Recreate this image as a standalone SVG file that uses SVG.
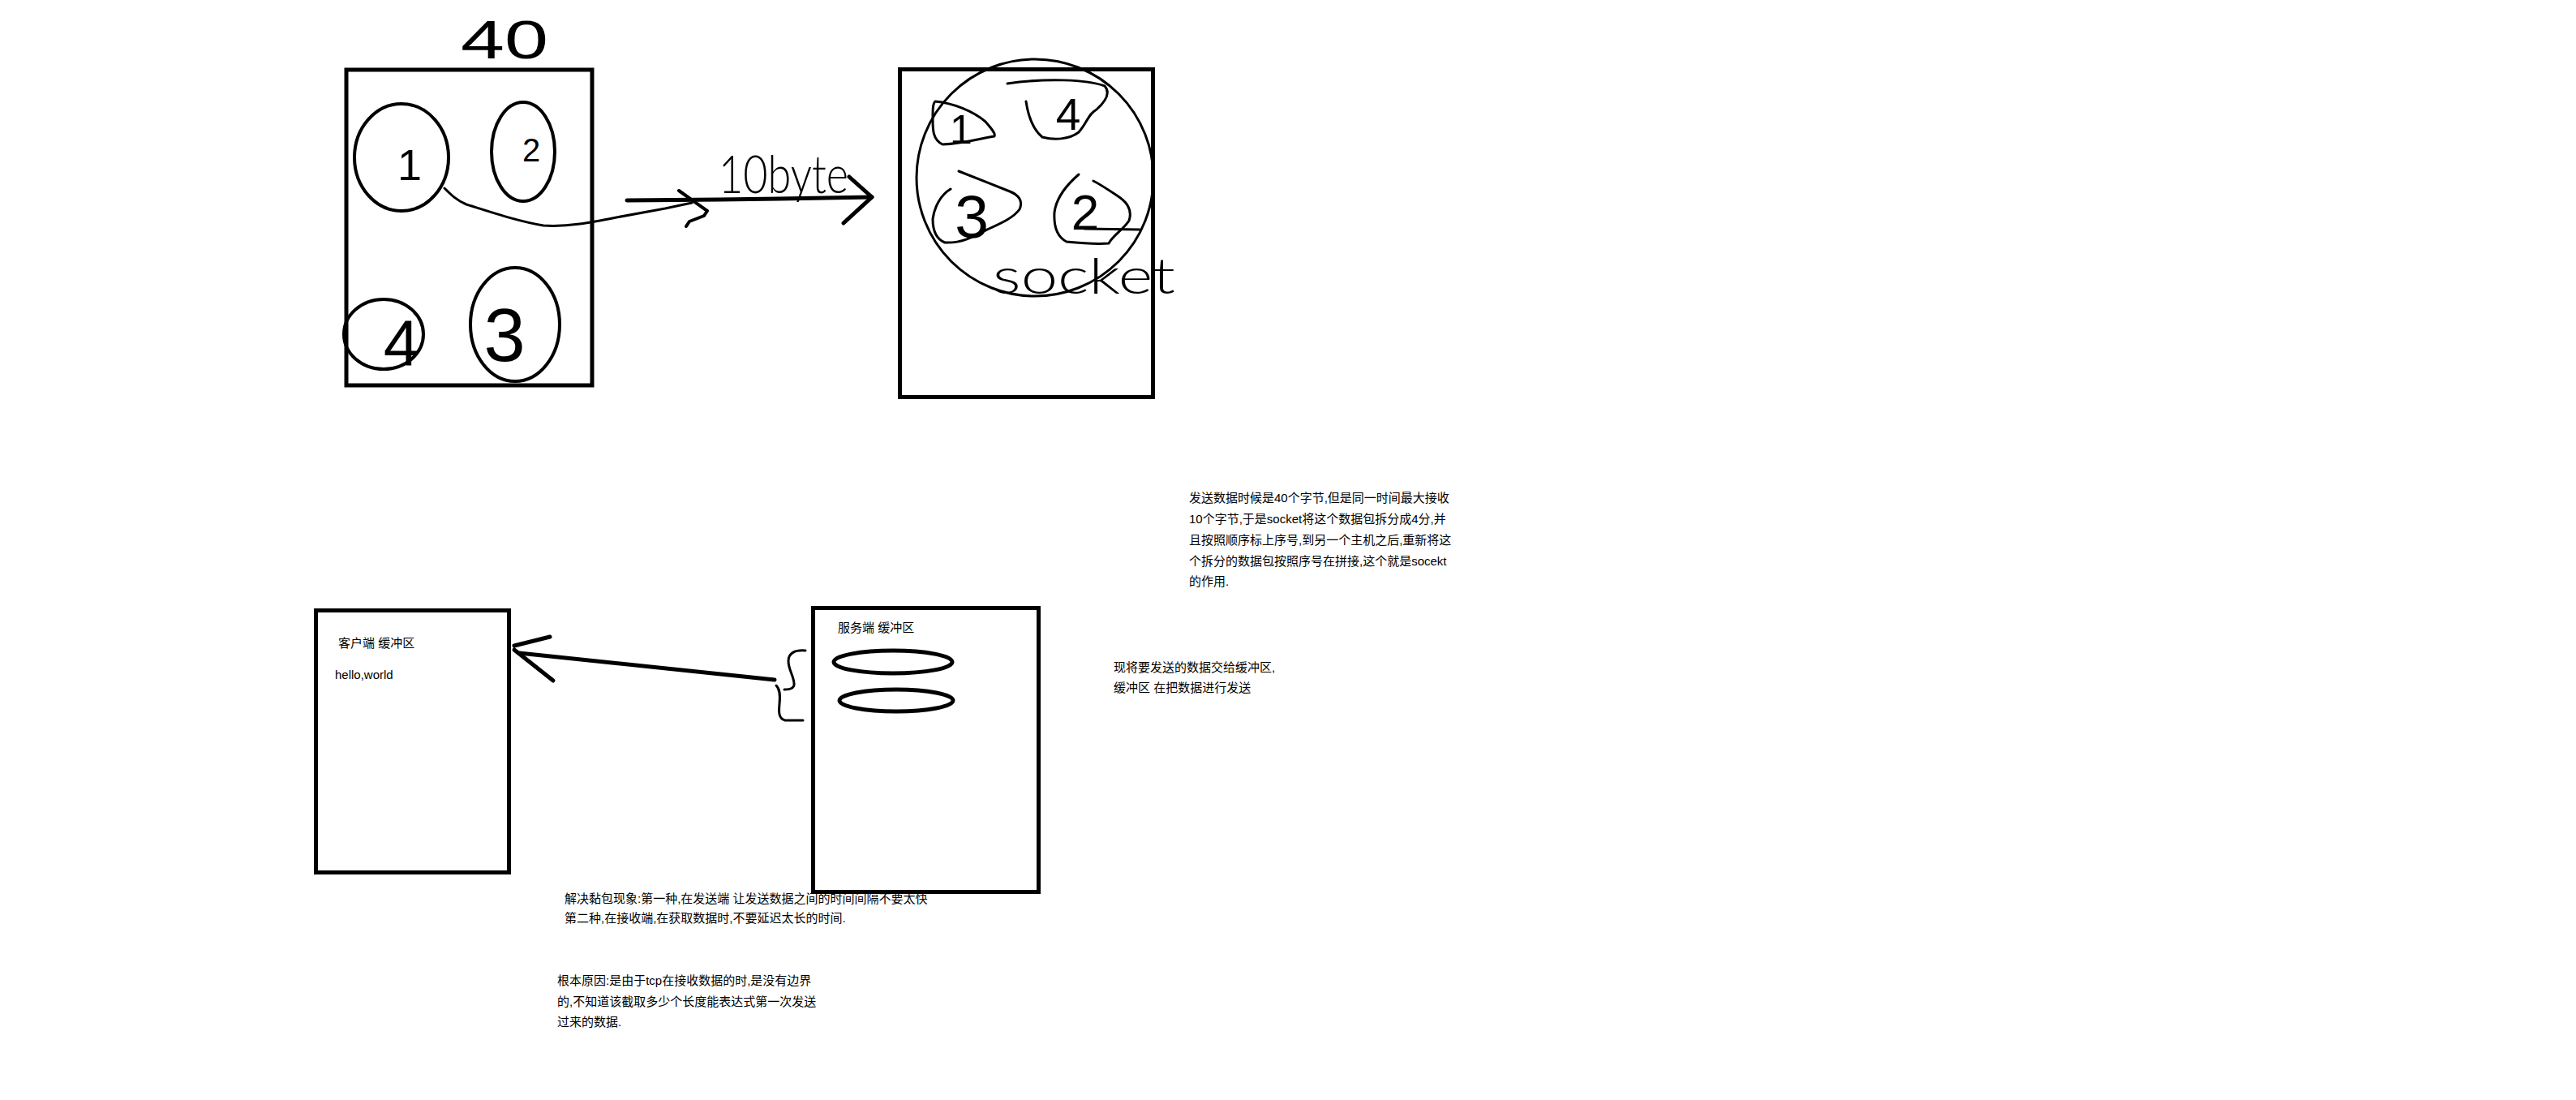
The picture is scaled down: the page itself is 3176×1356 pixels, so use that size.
<svg xmlns="http://www.w3.org/2000/svg" width="3176" height="1356" viewBox="0 0 3176 1356">
<style>
.box{fill:none;stroke:#000;stroke-width:5}
.pen{fill:none;stroke:#000;stroke-width:4;stroke-linecap:round;stroke-linejoin:round}
.thin{fill:none;stroke:#000;stroke-width:3;stroke-linecap:round;stroke-linejoin:round}
.hand{font-family:"Liberation Sans",sans-serif;fill:#000;text-anchor:middle}
.thinhand{font-family:Lato,"Liberation Sans",sans-serif;font-weight:300;fill:#000}
.note{font-family:"Liberation Sans","Noto Sans CJK SC",sans-serif;font-size:15px;fill:#000}
</style>
<rect width="3176" height="1356" fill="#fff"/>

<g id="packet-40">
  <rect class="box" x="427" y="86" width="303" height="389"/>
  <text class="hand" x="622" y="72" font-size="66" textLength="108" lengthAdjust="spacingAndGlyphs">40</text>
  <ellipse class="pen" cx="495" cy="194" rx="58" ry="66"/>
  <text class="hand" x="505" y="222" font-size="54">1</text>
  <ellipse class="pen" cx="645" cy="187" rx="39" ry="61"/>
  <text class="hand" x="655" y="199" font-size="40">2</text>
  <ellipse class="pen" cx="473" cy="412" rx="49" ry="43"/>
  <text class="hand" x="495" y="450" font-size="80">4</text>
  <ellipse class="pen" cx="635" cy="400" rx="55" ry="70"/>
  <text class="hand" x="622" y="445" font-size="92">3</text>
</g>

<g id="socket-box">
  <rect class="box" x="1109.5" y="85.5" width="312" height="404"/>
  <ellipse class="thin" cx="1276" cy="219" rx="146" ry="146"/>
  <path class="thin" d="M1153,125 C1175,127 1200,137 1215,150 C1222,158 1228,165 1226,168 C1210,170 1190,177 1162,178 C1150,172 1150,160 1150,147 C1150,135 1150,128 1153,125 Z"/>
  <text class="hand" x="1185" y="177" font-size="50">1</text>
  <path class="thin" d="M1265,125 C1268,145 1274,160 1285,169 C1300,173 1318,172 1330,163 C1340,152 1342,140 1352,135 C1362,126 1370,115 1362,106 C1340,98 1290,96 1242,103"/>
  <text class="hand" x="1317" y="160" font-size="55">4</text>
  <path class="thin" d="M1172,233 C1160,240 1152,255 1150,270 C1150,285 1155,295 1165,299 C1185,300 1200,292 1217,283 C1235,275 1250,268 1257,258 C1262,247 1255,240 1245,236 C1225,228 1200,218 1182,211"/>
  <text class="hand" x="1198" y="293" font-size="75">3</text>
  <path class="thin" d="M1330,215 C1315,228 1302,245 1300,262 C1299,280 1303,292 1315,298 C1335,300 1355,301 1367,300 C1372,290 1385,283 1392,272 C1396,260 1390,250 1380,243 C1368,235 1358,228 1348,223"/>
  <text class="hand" x="1338" y="283" font-size="62">2</text>
  <path class="thin" d="M1337,282 L1405,283"/>
  <text class="thinhand" x="1224" y="362" font-size="62" textLength="225" lengthAdjust="spacingAndGlyphs">socket</text>
</g>

<g id="client-buffer">
  <rect class="box" x="389.5" y="752.5" width="238" height="323"/>
  <text class="note" x="417" y="798" font-size="14.5">客户端 缓冲区</text>
  <text class="note" x="413" y="837" font-size="16">hello,world</text>
</g>

<g id="notes">
  <text class="note">
    <tspan x="1466" y="619">发送数据时候是40个字节,但是同一时间最大接收</tspan>
    <tspan x="1466" y="645">10个字节,于是socket将这个数据包拆分成4分,并</tspan>
    <tspan x="1466" y="671">且按照顺序标上序号,到另一个主机之后,重新将这</tspan>
    <tspan x="1466" y="697">个拆分的数据包按照序号在拼接,这个就是socekt</tspan>
    <tspan x="1466" y="722">的作用.</tspan>
  </text>
  <text class="note">
    <tspan x="1373" y="828">现将要发送的数据交给缓冲区,</tspan>
    <tspan x="1373" y="853">缓冲区 在把数据进行发送</tspan>
  </text>
  <text class="note">
    <tspan x="696" y="1113">解决黏包现象:第一种,在发送端 让发送数据之间的时间间隔不要太快</tspan>
    <tspan x="696" y="1137">第二种,在接收端,在获取数据时,不要延迟太长的时间.</tspan>
  </text>
  <text class="note">
    <tspan x="687" y="1214">根本原因:是由于tcp在接收数据的时,是没有边界</tspan>
    <tspan x="687" y="1240">的,不知道该截取多少个长度能表达式第一次发送</tspan>
    <tspan x="687" y="1265">过来的数据.</tspan>
  </text>
</g>

<g id="server-buffer">
  <rect class="box" x="1002.5" y="749.5" width="278" height="350"/>
  <text class="note" x="1033" y="779" font-size="14.5">服务端 缓冲区</text>
  <ellipse cx="1101" cy="816" rx="73" ry="14" fill="none" stroke="#000" stroke-width="5"/>
  <ellipse cx="1105" cy="863.5" rx="70" ry="13.5" fill="none" stroke="#000" stroke-width="5"/>
</g>

<g id="connectors">
  <path class="thin" d="M548,232 C556,240 563,247 575,252 C610,263 640,273 670,278 C700,280 730,274 760,268 L820,257 L853,250"/>
  <path class="pen" d="M837,235 L872,260 L868,266 L850,273 L846,279"/>
  <path fill="none" stroke="#000" stroke-width="5" stroke-linecap="round" d="M773,247 L887,246 L960,245 L1075,243"/>
  <path fill="none" stroke="#000" stroke-width="5" stroke-linecap="round" stroke-linejoin="round" d="M1047,218 L1075,243 L1040,275"/>
  <text class="thinhand" x="886" y="238" font-size="66" textLength="160" lengthAdjust="spacingAndGlyphs">10byte</text>
  <path fill="none" stroke="#000" stroke-width="5" stroke-linecap="round" d="M955,838 L640,805"/>
  <path fill="none" stroke="#000" stroke-width="5" stroke-linecap="round" d="M678,785 L634,796 M634,801 L682,839"/>
  <path class="thin" d="M993,802 C980,801 972,805 972,815 C972,825 978,832 979,842 C980,848 975,850 967,850 M957,845 C962,850 962,858 961,868 C960,878 960,886 968,888 L990,888"/>
</g>
</svg>
